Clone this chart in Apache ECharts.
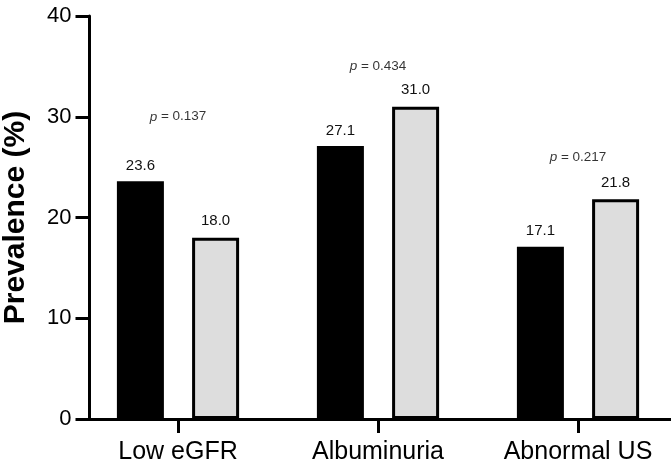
<!DOCTYPE html>
<html>
<head>
<meta charset="utf-8">
<script src="https://cdn.jsdelivr.net/npm/echarts@6/dist/echarts.min.js"></script>
<style>
  html, body { margin: 0; padding: 0; background: #fff; }
  #chart { width: 671px; height: 466px; }
</style>
</head>
<body>
<div id="chart"></div>
<script>
// data
var categories = ['Low eGFR', 'Albuminuria', 'Abnormal US'];
var group1 = [23.6, 27.1, 17.1];   // black bars
var group2 = [18.0, 31.0, 21.8];   // grey bars
var pValues = ['0.137', '0.434', '0.217'];
var pHeights = [30, 35, 26];       // where the p text sits, in axis units
var yTicks = [0, 10, 20, 30, 40];

var font = 'Liberation Sans, Arial, sans-serif';

// empty 4th slot so the x axis line runs on to the right edge
var xCats = categories.concat(['']);

var pData = [];
for (var i = 0; i < pHeights.length; i++) {
    pData.push({ value: pHeights[i], p: pValues[i] });
}

var myChart = echarts.init(document.getElementById('chart'), null, { renderer: 'canvas' });

myChart.setOption({
    animation: false,
    backgroundColor: '#fff',
    grid: { left: 78, right: -207, top: 16, bottom: 47, containLabel: false, outerBoundsMode: 'none' },
    xAxis: {
        type: 'category',
        data: xCats,
        axisLine: { show: true, lineStyle: { color: '#000', width: 3 } },
        axisTick: { show: true, alignWithLabel: true, interval: 0, length: 14, lineStyle: { color: '#000', width: 3 } },
        axisLabel: { interval: 0, color: '#000', fontSize: 25, fontFamily: font, margin: 21 }
    },
    yAxis: {
        type: 'value',
        min: yTicks[0],
        max: yTicks[yTicks.length - 1],
        interval: 10,
        offset: -11.5,
        name: 'Prevalence (%)',
        nameLocation: 'middle',
        nameGap: 59,
        nameTextStyle: { color: '#000', fontSize: 30, fontWeight: 'bold', fontFamily: font },
        splitLine: { show: false },
        axisLine: { show: true, lineStyle: { color: '#000', width: 3 } },
        axisTick: { show: true, length: 14, lineStyle: { color: '#000', width: 3 } },
        axisLabel: { color: '#000', fontSize: 22, fontFamily: font, margin: 18 }
    },
    series: [
        {
            type: 'bar',
            name: 'group 1',
            data: group1,
            barWidth: 47,
            barGap: '60%',
            itemStyle: { color: '#000', borderColor: '#000', borderWidth: 3 },
            label: {
                show: true, position: 'top', distance: 8,
                color: '#111', fontSize: 15, fontFamily: font,
                formatter: function (p) { return p.value.toFixed(1); }
            }
        },
        {
            type: 'bar',
            name: 'group 2',
            data: group2,
            barWidth: 47,
            itemStyle: { color: '#dddddd', borderColor: '#000', borderWidth: 3 },
            label: {
                show: true, position: 'top', distance: 9,
                color: '#111', fontSize: 15, fontFamily: font,
                formatter: function (p) { return p.value.toFixed(1); }
            }
        },
        {
            type: 'scatter',
            name: 'p',
            data: pData,
            symbolSize: 0,
            silent: true,
            label: {
                show: true, position: 'inside',
                formatter: function (p) { return '{i|p}{n| = ' + p.data.p + '}'; },
                rich: {
                    i: { fontStyle: 'italic', fontSize: 13.5, fontFamily: font, color: '#000' },
                    n: { fontSize: 13.5, fontFamily: font, color: '#000' }
                }
            }
        }
    ]
});
</script>
</body>
</html>
